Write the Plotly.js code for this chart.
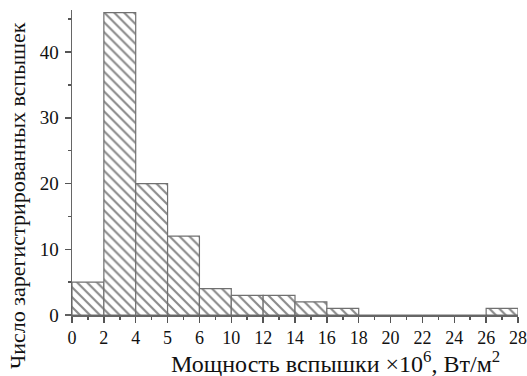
<!DOCTYPE html>
<html><head><meta charset="utf-8">
<script src="https://cdn.plot.ly/plotly-3.0.1.min.js"></script>
<style>html,body{margin:0;padding:0;background:#fff}</style>
</head><body><div id="chart" style="width:527px;height:376px"></div>
<script>
const tickLabels = ["0","2","4","5","6","10","12","14","16","18","20","22","24","26","28"];
const binCenters = [0.5,1.5,2.5,3.5,4.5,5.5,6.5,7.5,8.5,9.5,10.5,11.5,12.5,13.5];
const counts = [5,46,20,12,4,3,3,2,1,0,0,0,0,1];

const trace = {
  type: 'bar', x: binCenters, y: counts, width: 1,
  marker: {color: '#ffffff', line: {color: '#707070', width: 1.2},
    pattern: {shape: '\\', fgcolor: '#8a8a8a', bgcolor: '#ffffff', size: 7, solidity: 0.3}},
  hoverinfo: 'skip'
};
const font = {family: 'Liberation Serif, Times New Roman, serif', color: '#111', size: 18};
const layout = {
  width: 527, height: 376,
  margin: {l: 72, r: 9, t: 10, b: 61},
  paper_bgcolor: '#fff', plot_bgcolor: '#fff',
  showlegend: false, font: font, bargap: 0,
  xaxis: {range: [0, 14], tickmode: 'array', tickvals: tickLabels.map((_, i) => i), ticktext: tickLabels,
    showline: true, linecolor: '#666', linewidth: 1.5, ticks: 'outside', ticklen: 6, tickcolor: '#555', tickwidth: 1.5,
    showgrid: false, zeroline: false, tickfont: {size: 18}, ticklabelstandoff: 0, ticklabeloverflow: 'allow',
    minor: {dtick: 0.5, tick0: 0, ticks: 'outside', ticklen: 3, tickcolor: '#555', showgrid: false}},
  yaxis: {range: [0, 46.4], dtick: 10, showline: true, linecolor: '#666', linewidth: 1.5,
    ticks: 'outside', ticklen: 6, tickcolor: '#555', tickwidth: 1.5, showgrid: false, zeroline: false,
    tickfont: {size: 19}, ticklabelstandoff: 2,
    minor: {dtick: 5, ticks: 'outside', ticklen: 3, tickcolor: '#555', showgrid: false}},
  annotations: [
    {text: 'Мощность вспышки ×10<sup>6</sup>, Вт/м<sup>2</sup>', xref: 'paper', yref: 'paper',
      x: (335 - 72) / 446, y: 0, yshift: -47, xanchor: 'center', yanchor: 'middle', showarrow: false,
      font: {size: 24}},
    {text: 'Число зарегистрированных вспышек', xref: 'paper', yref: 'paper', textangle: -90,
      x: 0, xshift: -55, y: (315 - 196) / 305, xanchor: 'center', yanchor: 'middle', showarrow: false,
      font: {size: 22}}
  ],
  shapes: [{type: 'line', xref: 'paper', yref: 'paper', x0: -7/446, x1: 0, y0: 0, y1: 0,
    line: {color: '#666', width: 1.5}}]
};
Plotly.newPlot('chart', [trace], layout, {displayModeBar: false, staticPlot: true});
</script></body></html>
